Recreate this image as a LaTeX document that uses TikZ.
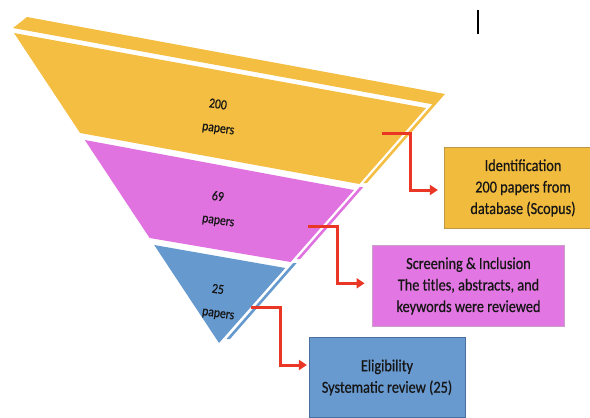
\documentclass[tikz,border=0pt]{standalone}
\usepackage{fontspec}
\setmainfont{Carlito}[FakeStretch=0.85,FakeBold=0.6]
\usetikzlibrary{arrows.meta,calc}

\definecolor{fyellow}{RGB}{244,190,66}
\definecolor{fpink}{RGB}{224,115,224}
\definecolor{fblue}{RGB}{102,153,206}
\definecolor{byellow}{RGB}{241,187,62}
\definecolor{byellowline}{RGB}{190,152,70}
\definecolor{bpink}{RGB}{226,118,226}
\definecolor{bpinkline}{RGB}{200,160,200}
\definecolor{bblue}{RGB}{104,154,208}
\definecolor{bblueline}{RGB}{72,112,160}
\definecolor{conred}{RGB}{234,54,36}
\definecolor{ink}{RGB}{22,22,22}

\begin{document}
\begin{tikzpicture}[x=1pt,y=1pt,
  conn/.style={draw=conred,line width=3pt,line join=miter,
    -{Triangle[length=8pt,width=10pt]}},
  count/.style={font=\fontsize{13.8}{15}\selectfont,text=ink,rotate=-8,inner sep=0pt},
  stagebox/.style={rectangle,minimum height=80.5pt,align=center,
    font=\fontsize{16.8}{21.5}\selectfont,text=ink,line width=0.8pt,inner sep=0pt}]

\useasboundingbox (0,0) rectangle (590,-418);
\clip (0,0) rectangle (590,-418);

% funnel sections
\fill[fyellow] (14,-33) -- (426,-108) -- (359.4,-184) -- (80.1,-133) -- cycle;
\fill[fpink] (84.8,-140) -- (354,-190) -- (290.6,-262) -- (149.6,-238) -- cycle;
\fill[fblue] (154.2,-245) -- (285.3,-268) -- (219,-343) -- cycle;

% top face and right rim
\fill[fyellow] (27,-17) -- (445,-94) -- (366.9,-183) -- (363.4,-183)
  -- (432.5,-104.3) -- (13,-28) -- cycle;
\fill[fpink] (363.4,-187) -- (359.9,-187) -- (296.7,-259) -- (300.2,-259) -- cycle;
\fill[fblue] (296.7,-263) -- (293.2,-263) -- (226.5,-339) -- (230,-339) -- cycle;

% counts inside the funnel
\node[count] (n200) at (218,-104) {200};
\node[count] (p200) at (218,-130) {papers};
\node[count] (n69) at (218,-196) {69};
\node[count] (p69) at (218,-222) {papers};
\node[count] (n25) at (218,-289) {25};
\node[count] (p25) at (218,-315) {papers};

% stage boxes
\node[stagebox,fill=byellow,draw=byellowline,minimum width=158pt] (ident) at (523,-188)
  {Identification\\200 papers from\\database (Scopus)};
\node[stagebox,fill=bpink,draw=bpinkline,minimum width=191.6pt] (screen) at (468.5,-286)
  {Screening \& Inclusion\\The titles, abstracts, and\\keywords were reviewed};
\node[stagebox,fill=bblue,draw=bblueline,minimum width=156pt] (elig) at (387,-377.5)
  {Eligibility\\Systematic review (25)};

% connectors from the sections to their boxes
\coordinate (s1) at (381.5,-133.3);
\coordinate (k1) at (410.5,-133.3);
\coordinate (s2) at (308.3,-226.7);
\coordinate (k2) at (337.3,-226.7);
\coordinate (s3) at (250.7,-307.3);
\coordinate (k3) at (280,-307.3);
\draw[conn] (s1) -- (k1) |- ($(ident.west)+(-5.7,-2)$);
\draw[conn] (s2) -- (k2) |- ($(screen.west)+(-7.7,2.7)$);
\draw[conn] (s3) -- (k3) |- ($(elig.west)+(-1.7,12.5)$);

% cursor mark
\draw[line width=1.2pt,black] (478,-10) -- (478,-34);
\end{tikzpicture}
\end{document}
